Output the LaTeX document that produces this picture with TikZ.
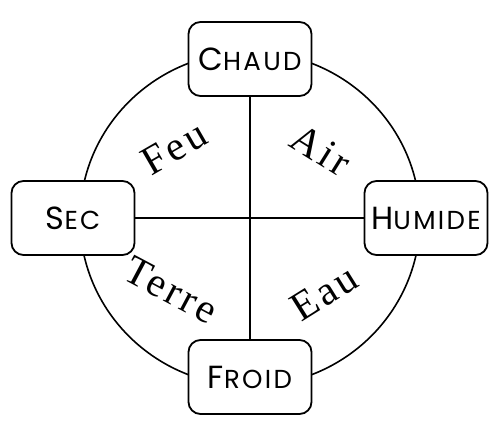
\documentclass[tikz,border=0pt]{standalone}
\usepackage{fontspec}
\setmainfont{Liberation Serif}
\newfontfamily\boxfont{Poppins}[LetterSpace=9]
\newcommand{\fakesc}[2]{{\fontsize{32}{34}\selectfont #1}{\fontsize{26}{28}\selectfont #2}}
\begin{document}
\begin{tikzpicture}[x=1pt,y=-1pt]
\useasboundingbox (0,0) rectangle (500,438);
\tikzset{
  qual/.style={draw, line width=1.8pt, rounded corners=12pt, fill=white,
    minimum width=123pt, minimum height=74pt, inner sep=0pt, font=\boxfont},
  elem/.style={font=\fontsize{41}{44}\selectfont\addfontfeature{LetterSpace=8}},
  link/.style={line width=1.8pt}
}
\draw[line width=1.6pt] (250,219) ellipse [x radius=170pt, y radius=167pt];
\node[qual] (chaud) at (250,59) {\fakesc{C}{HAUD}};
\node[qual] (froid) at (250,377) {\fakesc{F}{ROID}};
\node[qual] (sec) at (73,218) {\fakesc{S}{EC}};
\node[qual] (humide) at (426,218) {\fakesc{H}{UMIDE}};
\draw[link] (chaud.south) -- (froid.north);
\draw[link] (sec.east) -- (humide.west);
\node[elem, rotate=30] (feu) at (174,148) {Feu};
\node[elem, rotate=-32] (air) at (321,150) {Air};
\node[elem, rotate=-28] (terre) at (171,290) {Terre};
\node[elem, rotate=32] (eau) at (324,293) {Eau};
\end{tikzpicture}
\end{document}
